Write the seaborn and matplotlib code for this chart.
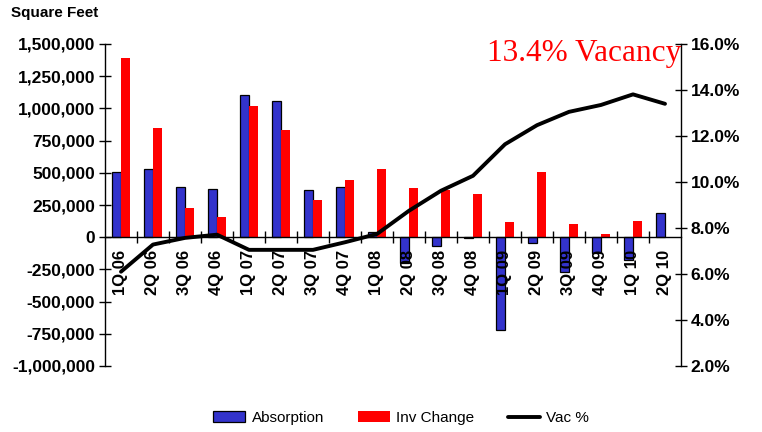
import numpy as np
import pandas as pd
import matplotlib
matplotlib.use("Agg")
import matplotlib.pyplot as plt
from matplotlib.patches import Patch
from matplotlib.lines import Line2D
from matplotlib.ticker import FuncFormatter, FixedLocator
import seaborn as sns

quarters = ["1Q 06", "2Q 06", "3Q 06", "4Q 06", "1Q 07", "2Q 07", "3Q 07", "4Q 07",
            "1Q 08", "2Q 08", "3Q 08", "4Q 08", "1Q 09", "2Q 09", "3Q 09", "4Q 09",
            "1Q 10", "2Q 10"]
absorption = [503000, 529000, 386000, 375000, 1107000, 1060000, 365000, 386000,
              39000, -200000, -65000, -10000, -724000, -47000, -268000, -125000,
              -174000, 190000]
inv_change = [1388000, 849000, 224000, 154000, 1021000, 834000, 287000, 443000,
              529000, 380000, 370000, 333000, 115000, 505000, 99000, 23000,
              123000, 0]
vac_pct = [6.1, 7.28, 7.57, 7.71, 7.05, 7.05, 7.05, 7.38, 7.74, 8.75, 9.62, 10.27,
           11.64, 12.47, 13.05, 13.35, 13.81, 13.4]
left_ticks = [-1000000, -750000, -500000, -250000, 0, 250000, 500000, 750000,
              1000000, 1250000, 1500000]
right_ticks = [2, 4, 6, 8, 10, 12, 14, 16]

sns.set_style("ticks")
plt.rcParams["font.family"] = ["Liberation Sans", "DejaVu Sans"]
plt.rcParams["text.color"] = "black"
plt.rcParams["axes.edgecolor"] = "black"
plt.rcParams["xtick.color"] = "black"
plt.rcParams["ytick.color"] = "black"
plt.rcParams["axes.labelcolor"] = "black"

df = pd.DataFrame({
    "Quarter": quarters * 2,
    "Series": ["Absorption"] * len(quarters) + ["Inv Change"] * len(quarters),
    "Value": absorption + inv_change,
})

fig = plt.figure(figsize=(7.62, 4.32), dpi=100)
ax = fig.add_axes([105 / 762, 1 - 366 / 432, (681 - 105) / 762, (366 - 44) / 432])

blue = "#3333CC"
red = "#FF0000"
sns.barplot(data=df, x="Quarter", y="Value", hue="Series", order=quarters,
            hue_order=["Absorption", "Inv Change"], palette=[blue, red],
            width=0.57, gap=0, ax=ax, legend=False, saturation=1)
for p in ax.containers[0]:
    p.set_edgecolor("black")
    p.set_linewidth(0.9)
for p in ax.containers[1]:
    p.set_linewidth(0)
ax.set_axisbelow(False)

ax.set_xlim(-0.5, len(quarters) - 0.5)
ax.set_ylim(-1000000, 1500000)
ax.set_yticks(left_ticks)
ax.yaxis.set_major_formatter(FuncFormatter(lambda v, _: f"{int(v):,}"))
ax.set_xlabel("")
ax.set_ylabel("")
ax.spines["bottom"].set_position(("data", 0))
ax.spines["top"].set_visible(False)
ax.spines["right"].set_visible(False)
for s in ["left", "bottom"]:
    ax.spines[s].set_linewidth(1.0)
ax.tick_params(axis="y", direction="inout", length=8, width=1, labelsize=12.5, pad=3)
ax.set_xticks(range(len(quarters)))
ax.set_xticklabels(quarters, rotation=90, fontsize=12, fontweight="bold")
ax.tick_params(axis="x", which="major", length=0, pad=9)
ax.xaxis.set_minor_locator(FixedLocator(np.arange(0.5, len(quarters) - 0.5, 1)))
ax.tick_params(axis="x", which="minor", direction="inout", length=9, width=1)
for lab in ax.get_yticklabels():
    lab.set_fontweight("bold")

ax2 = ax.twinx()
sns.lineplot(x=np.arange(len(quarters)), y=vac_pct, ax=ax2, color="black",
             linewidth=2.8, legend=False)
ax2.set_ylim(2, 16)
ax2.set_xlim(-0.5, len(quarters) - 0.5)
ax2.set_yticks(right_ticks)
ax2.yaxis.set_major_formatter(FuncFormatter(lambda v, _: f"{v:.1f}%"))
ax2.tick_params(axis="y", direction="inout", length=8, width=1, labelsize=12.5, pad=3)
for lab in ax2.get_yticklabels():
    lab.set_fontweight("bold")
for s in ["top", "left", "bottom"]:
    ax2.spines[s].set_visible(False)
ax2.spines["right"].set_linewidth(1.0)
ax2.set_ylabel("")

fig.text(11 / 762, 1 - 13 / 432, "Square Feet", fontsize=11, fontweight="bold",
         ha="left", va="center")
fig.text(681 / 762, 1 - 61 / 432, "13.4% Vacancy", fontsize=22.5, color="red",
         ha="right", va="baseline", family=["Liberation Serif", "DejaVu Serif"])

handles = [Patch(facecolor=blue, edgecolor="black", linewidth=0.9),
           Patch(facecolor=red, edgecolor="none"),
           Line2D([0], [0], color="black", linewidth=2.8)]
fig.legend(handles, ["Absorption", "Inv Change", "Vac %"], loc="center",
           bbox_to_anchor=(401 / 762, 1 - 418 / 432), ncol=3, frameon=False,
           fontsize=11, handlelength=2.1, handletextpad=0.4, columnspacing=2.2)

fig.savefig("out.png", dpi=100)
